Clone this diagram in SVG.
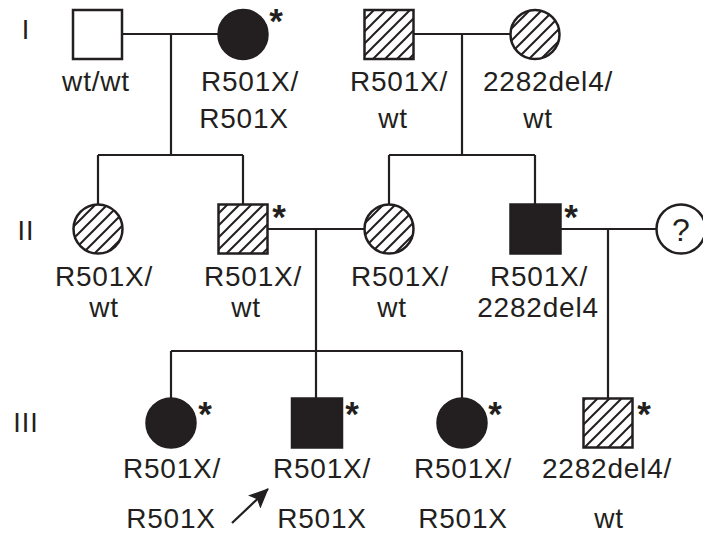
<svg xmlns="http://www.w3.org/2000/svg" width="703" height="538" viewBox="0 0 703 538">
<defs>
<pattern id="hatch" patternUnits="userSpaceOnUse" width="12" height="12">
<path d="M-3,3 L3,-3 M0,12 L12,0 M9,15 L15,9" stroke="#231f20" stroke-width="2"/>
</pattern>
<marker id="ah" markerWidth="20" markerHeight="18" refX="19" refY="9" orient="auto" markerUnits="userSpaceOnUse" viewBox="0 0 20 18">
<path d="M0,0 L20,9 L0,18 L4,9 Z" fill="#231f20"/>
</marker>
</defs>
<style>
.sym{stroke:#231f20;stroke-width:2.5}
.open{fill:#fff}
.filled{fill:#231f20}
.hat{fill:url(#hatch)}
.ln{stroke:#231f20;stroke-width:2.2;fill:none}
text{font-family:"Liberation Sans",Arial,sans-serif;font-size:28px;letter-spacing:0.8px;fill:#231f20;text-anchor:middle}
.ast{font-size:35px;font-weight:bold;letter-spacing:0}
.gen{font-size:27px;letter-spacing:1px}
</style>
<rect width="703" height="538" fill="#fff"/>
<g id="connectors">
<path class="ln" d="M122,34 H218"/>
<path class="ln" d="M171,34 V155"/>
<path class="ln" d="M98,155 H243"/>
<path class="ln" d="M98,155 V204"/>
<path class="ln" d="M243,155 V204"/>
<path class="ln" d="M414,34 H510"/>
<path class="ln" d="M462,34 V155"/>
<path class="ln" d="M389,155 H535"/>
<path class="ln" d="M389,155 V204"/>
<path class="ln" d="M535,155 V204"/>
<path class="ln" d="M268,229 H364"/>
<path class="ln" d="M316,229 V351"/>
<path class="ln" d="M171,351 H462"/>
<path class="ln" d="M171,351 V398"/>
<path class="ln" d="M316,351 V398"/>
<path class="ln" d="M462,351 V398"/>
<path class="ln" d="M561,229 H656"/>
<path class="ln" d="M608,229 V398"/>
<path class="ln" d="M232,523 L268,489" stroke-width="3" marker-end="url(#ah)"/>
</g>
<g id="gen-labels">
<text class="gen" x="26" y="39">I</text>
<text class="gen" x="26" y="240">II</text>
<text class="gen" x="26" y="432">III</text>
</g>
<g id="I-1">
<rect class="sym open" x="73" y="10" width="49" height="49"/>
<text x="96" y="91">wt/wt</text>
</g>
<g id="I-2">
<circle class="sym filled" cx="243" cy="34.5" r="24.5"/>
<text class="ast" x="276" y="33">*</text>
<text x="250" y="91">R501X/</text>
<text x="244" y="128">R501X</text>
</g>
<g id="I-3">
<rect class="sym hat" x="364.5" y="10" width="49" height="49"/>
<text x="399" y="91">R501X/</text>
<text x="393" y="128">wt</text>
</g>
<g id="I-4">
<circle class="sym hat" cx="535" cy="34.5" r="24.5"/>
<text x="548" y="91">2282del4/</text>
<text x="538" y="128">wt</text>
</g>
<g id="II-1">
<circle class="sym hat" cx="98" cy="229" r="24.5"/>
<text x="104" y="286">R501X/</text>
<text x="104" y="317">wt</text>
</g>
<g id="II-2">
<rect class="sym hat" x="218.5" y="204.5" width="49" height="49"/>
<text class="ast" x="279" y="229">*</text>
<text x="253" y="286">R501X/</text>
<text x="246" y="317">wt</text>
</g>
<g id="II-3">
<circle class="sym hat" cx="389" cy="229" r="24.5"/>
<text x="400" y="286">R501X/</text>
<text x="392" y="317">wt</text>
</g>
<g id="II-4">
<rect class="sym filled" x="510.5" y="204.5" width="50" height="49"/>
<text class="ast" x="571" y="229">*</text>
<text x="539" y="286">R501X/</text>
<text x="538" y="317">2282del4</text>
</g>
<g id="II-5">
<circle class="sym open" cx="681" cy="229" r="24.5"/>
<text x="681" y="241" style="letter-spacing:0;font-size:32px">?</text>
</g>
<g id="III-1">
<circle class="sym filled" cx="171" cy="423" r="24.5"/>
<text class="ast" x="205" y="426">*</text>
<text x="172" y="478">R501X/</text>
<text x="171" y="528">R501X</text>
</g>
<g id="III-2">
<rect class="sym filled" x="292" y="398.5" width="50" height="49"/>
<text class="ast" x="352" y="426">*</text>
<text x="322" y="478">R501X/</text>
<text x="322" y="528">R501X</text>
</g>
<g id="III-3">
<circle class="sym filled" cx="462" cy="423" r="24.5"/>
<text class="ast" x="495" y="426">*</text>
<text x="463" y="478">R501X/</text>
<text x="463" y="528">R501X</text>
</g>
<g id="III-4">
<rect class="sym hat" x="583.5" y="398.5" width="49" height="49"/>
<text class="ast" x="644" y="426">*</text>
<text x="607" y="478">2282del4/</text>
<text x="609" y="528">wt</text>
</g>
</svg>
